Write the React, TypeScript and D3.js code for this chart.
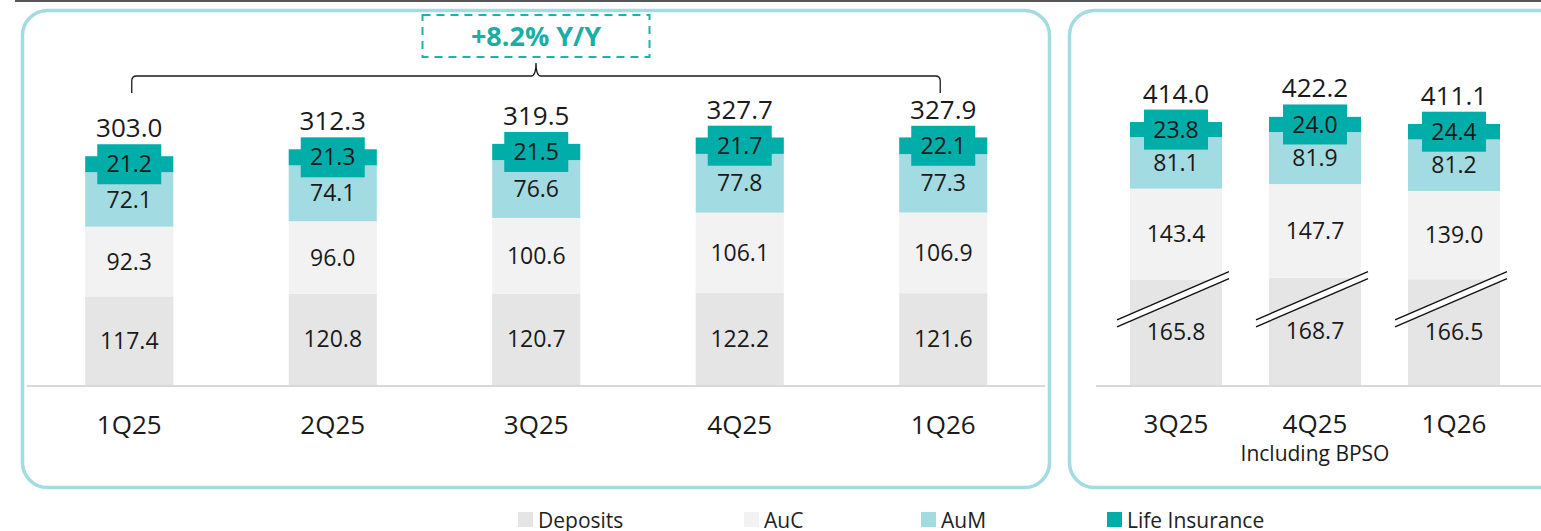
import React from "react";
import * as d3 from "d3";

const categoriesLeft = ["1Q25", "2Q25", "3Q25", "4Q25", "1Q26"];
const depositsLeft = [117.4, 120.8, 120.7, 122.2, 121.6];
const aucLeft = [92.3, 96.0, 100.6, 106.1, 106.9];
const aumLeft = [72.1, 74.1, 76.6, 77.8, 77.3];
const lifeLeft = [21.2, 21.3, 21.5, 21.7, 22.1];
const totalsLeft = [303.0, 312.3, 319.5, 327.7, 327.9];

const categoriesRight = ["3Q25", "4Q25", "1Q26"];
const depositsRight = [165.8, 168.7, 166.5];
const aucRight = [143.4, 147.7, 139.0];
const aumRight = [81.1, 81.9, 81.2];
const lifeRight = [23.8, 24.0, 24.4];
const totalsRight = [414.0, 422.2, 411.1];

const seriesNames = ["Deposits", "AuC", "AuM", "Life Insurance"];
const seriesColors = ["#e5e5e5", "#f2f2f2", "#a2dbe1", "#00ada8"];
const growthLabel = "+8.2% Y/Y";
const rightSubtitle = "Including BPSO";
const breakValue = 137;

const FONT = "'Open Sans', 'Noto Sans', sans-serif";
const TXT = "#1a1a1a";

function fmt(v: number) {
  return v.toFixed(1);
}

type PanelProps = {
  cats: string[];
  series: number[][];
  totals: number[];
  x: d3.ScaleBand<string>;
  y: d3.ScaleLinear<number, number>;
  catBaseline: number;
  withBreak?: boolean;
};

function Bars({ cats, series, totals, x, y, catBaseline, withBreak }: PanelProps) {
  const rows = cats.map((c, i) => {
    const o: any = { cat: c };
    seriesNames.forEach((s, k) => (o[s] = series[k][i]));
    return o;
  });
  const stacked = d3.stack<any>().keys(seriesNames)(rows);
  const bw = x.bandwidth();
  const boxW = 64;
  const boxH = 40;
  return (
    <g>
      {stacked.map((layer, k) => (
        <g key={layer.key}>
          {layer.map((d, i) => (
            <rect
              key={i}
              x={x(cats[i])!}
              width={bw}
              y={y(d[1])}
              height={y(d[0]) - y(d[1])}
              fill={seriesColors[k]}
            />
          ))}
        </g>
      ))}
      {withBreak &&
        cats.map((c, i) => {
          const cx = x(c)! + bw / 2;
          const cy = y(breakValue);
          const slope = -0.43;
          const x1 = cx - 59;
          const x2 = cx + 53;
          const g = 3.5;
          const ya = (xx: number, off: number) => cy + (xx - cx) * slope + off;
          const poly = `${x1},${ya(x1, -g)} ${x2},${ya(x2, -g)} ${x2},${ya(x2, g)} ${x1},${ya(x1, g)}`;
          return (
            <g key={"b" + i}>
              <polygon points={poly} fill="#ffffff" />
              <line x1={x1} y1={ya(x1, -g)} x2={x2} y2={ya(x2, -g)} stroke="#111" strokeWidth={1.4} />
              <line x1={x1} y1={ya(x1, g)} x2={x2} y2={ya(x2, g)} stroke="#111" strokeWidth={1.4} />
            </g>
          );
        })}
      {stacked.map((layer, k) =>
        layer.map((d, i) => {
          const cx = x(cats[i])! + bw / 2;
          const cy = (y(d[0]) + y(d[1])) / 2;
          if (k === 3) {
            return (
              <g key={"l" + k + i}>
                <rect x={cx - boxW / 2} y={cy - boxH / 2} width={boxW} height={boxH} fill={seriesColors[3]} />
                <text x={cx} y={cy} dy="0.35em" textAnchor="middle" fontSize={23} fill={TXT} fontFamily={FONT}>
                  {fmt(series[k][i])}
                </text>
                <text x={cx} y={cy - boxH / 2 - 7} textAnchor="middle" fontSize={26} fill={TXT} fontFamily={FONT}>
                  {fmt(totals[i])}
                </text>
              </g>
            );
          }
          return (
            <text key={"l" + k + i} x={cx} y={cy} dy="0.35em" textAnchor="middle" fontSize={23} fill={TXT} fontFamily={FONT}>
              {fmt(series[k][i])}
            </text>
          );
        })
      )}
      {cats.map((c) => (
        <text key={"c" + c} x={x(c)! + bw / 2} y={catBaseline} textAnchor="middle" fontSize={26} fill={TXT} fontFamily={FONT}>
          {c}
        </text>
      ))}
    </g>
  );
}

export default function App() {
  const W = 1541;
  const H = 531;
  const baseY = 385;

  const xL = d3.scaleBand<string>().domain(categoriesLeft).range([27.5, 1045]).paddingInner(0.567).paddingOuter(0.2835);
  const yL = d3.scaleLinear().domain([0, 400]).range([baseY, baseY - 400 * 0.755]);

  const xR = d3.scaleBand<string>().domain(categoriesRight).range([1106.5, 1523.5]).paddingInner(0.338).paddingOuter(0.169);
  const yR = d3.scaleLinear().domain([0, 400]).range([baseY, baseY - 400 * 0.635]);

  const bracketY = 76;
  const bL = xL(categoriesLeft[0])! + xL.bandwidth() / 2 + 2.5;
  const bR = xL(categoriesLeft[4])! + xL.bandwidth() / 2 - 3;
  const bC = (bL + bR) / 2;
  const bracket = `M${bL},93 V${bracketY + 5} Q${bL},${bracketY} ${bL + 5},${bracketY} H${bC - 5} Q${bC},${bracketY} ${bC},${bracketY - 13} Q${bC},${bracketY} ${bC + 5},${bracketY} H${bR - 5} Q${bR},${bracketY} ${bR},${bracketY + 5} V93`;

  const legendX = [518, 744, 921, 1107];

  return (
    <svg width={W} height={H} style={{ position: "absolute", left: 0, top: 0, background: "#fff" }}>
      <line x1={15} x2={W} y1={1} y2={1} stroke="#555" strokeWidth={2} />
      <rect x={22.5} y={10.5} width={1027} height={477} rx={25} fill="none" stroke="#a2dbe1" strokeWidth={3.5} />
      <rect x={1069.5} y={10.5} width={520} height={477} rx={25} fill="none" stroke="#a2dbe1" strokeWidth={3.5} />

      <line x1={27} x2={1045} y1={baseY + 1} y2={baseY + 1} stroke="#d9d9d9" strokeWidth={2} />
      <line x1={1096} x2={W} y1={baseY + 1} y2={baseY + 1} stroke="#d9d9d9" strokeWidth={2} />

      <Bars cats={categoriesLeft} series={[depositsLeft, aucLeft, aumLeft, lifeLeft]} totals={totalsLeft} x={xL} y={yL} catBaseline={434} />
      <Bars cats={categoriesRight} series={[depositsRight, aucRight, aumRight, lifeRight]} totals={totalsRight} x={xR} y={yR} catBaseline={433} withBreak />

      <text x={xR(categoriesRight[1])! + xR.bandwidth() / 2} y={461} textAnchor="middle" fontSize={21} fill={TXT} fontFamily={FONT}>
        {rightSubtitle}
      </text>

      <path d={bracket} fill="none" stroke="#1a1a1a" strokeWidth={1.3} />
      <rect x={bC - 113.5} y={15} width={227} height={42} fill="#fff" stroke="#1db3ab" strokeWidth={2} strokeDasharray="8,6" />
      <text x={bC} y={46} textAnchor="middle" fontSize={27} fontWeight={700} fill="#1aaea6" fontFamily={FONT}>
        {growthLabel}
      </text>

      {seriesNames.map((s, i) => (
        <g key={s}>
          <rect x={legendX[i]} y={512} width={15} height={15} fill={seriesColors[i]} />
          <text x={legendX[i] + 20} y={528} fontSize={21} fill="#222" fontFamily={FONT}>
            {s}
          </text>
        </g>
      ))}
    </svg>
  );
}
